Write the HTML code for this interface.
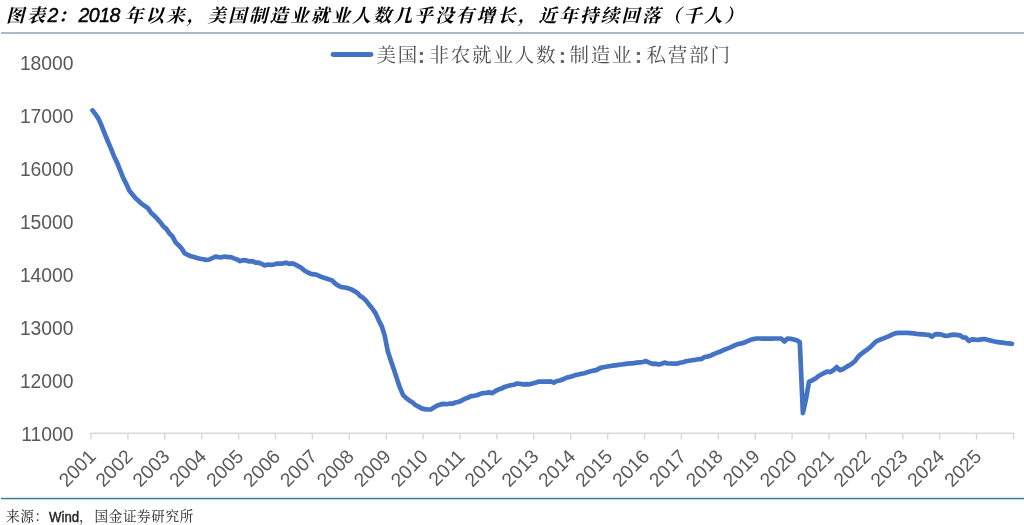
<!DOCTYPE html>
<html lang="zh"><head><meta charset="utf-8"><title>chart</title>
<style>
html,body{margin:0;padding:0;background:#fff;}
body{width:1024px;height:525px;position:relative;overflow:hidden;font-family:"Liberation Sans","Noto Sans CJK SC",sans-serif;}
.title{position:absolute;left:6px;top:0px;height:30px;line-height:30px;font-family:"Liberation Sans","Noto Serif CJK SC",serif;font-weight:bold;font-style:italic;font-size:18.4px;letter-spacing:2.3px;color:#000;white-space:nowrap}
.title .n{font-size:19.5px;letter-spacing:-0.5px;font-weight:normal;-webkit-text-stroke:0.45px #000}
.rule1{position:absolute;left:1px;top:32px;width:1023px;height:2px;background:#aeb8c7}
.rule2{position:absolute;left:1px;top:496px;width:1023px;height:5px;background:linear-gradient(#eefbfe 0 1px,#d5f0f6 1px 2px,#4d6c77 2px 3px,#c3e1e9 3px 4px,#f2fcfe 4px 5px)}
.src{position:absolute;left:6px;top:508.3px;height:18px;line-height:18px;font-family:"Liberation Sans","Noto Serif CJK SC",serif;font-size:13.6px;letter-spacing:0.6px;color:#222;white-space:nowrap}
.src span{position:absolute;top:0}
.src .w{font-family:"Liberation Sans",sans-serif;font-size:15px;letter-spacing:0;display:inline-block;transform:scaleX(0.88);transform-origin:0 50%;-webkit-text-stroke:0.4px #222;top:-0.5px}
svg{position:absolute;left:0;top:0}
.ax text{font-family:"Liberation Sans",sans-serif;font-size:19.3px;fill:#595959}
.lg{font-family:"Liberation Sans","Noto Serif CJK SC",serif;font-size:19.5px;fill:#505050;letter-spacing:1.8px}
.lg .c{font-family:"Liberation Sans",sans-serif;font-weight:bold;font-size:22px;letter-spacing:0;fill:#666}
</style></head><body>
<div class="title">图表<span class="n">2</span>：<span class="n">2018 </span>年以来，美国制造业就业人数几乎没有增长，近年持续回落（千人）</div>
<div class="rule1"></div>
<svg width="1024" height="525" viewBox="0 0 1024 525">
<g stroke="#d9d9d9" stroke-width="1.5" fill="none"><line x1="90.3" y1="433.2" x2="1014.3" y2="433.2"/><line x1="91.0" y1="433" x2="91.0" y2="439.5"/><line x1="127.9" y1="433" x2="127.9" y2="439.5"/><line x1="164.8" y1="433" x2="164.8" y2="439.5"/><line x1="201.7" y1="433" x2="201.7" y2="439.5"/><line x1="238.6" y1="433" x2="238.6" y2="439.5"/><line x1="275.5" y1="433" x2="275.5" y2="439.5"/><line x1="312.4" y1="433" x2="312.4" y2="439.5"/><line x1="349.3" y1="433" x2="349.3" y2="439.5"/><line x1="386.2" y1="433" x2="386.2" y2="439.5"/><line x1="423.1" y1="433" x2="423.1" y2="439.5"/><line x1="460.0" y1="433" x2="460.0" y2="439.5"/><line x1="496.9" y1="433" x2="496.9" y2="439.5"/><line x1="533.8" y1="433" x2="533.8" y2="439.5"/><line x1="570.7" y1="433" x2="570.7" y2="439.5"/><line x1="607.6" y1="433" x2="607.6" y2="439.5"/><line x1="644.5" y1="433" x2="644.5" y2="439.5"/><line x1="681.4" y1="433" x2="681.4" y2="439.5"/><line x1="718.3" y1="433" x2="718.3" y2="439.5"/><line x1="755.2" y1="433" x2="755.2" y2="439.5"/><line x1="792.1" y1="433" x2="792.1" y2="439.5"/><line x1="829.0" y1="433" x2="829.0" y2="439.5"/><line x1="865.9" y1="433" x2="865.9" y2="439.5"/><line x1="902.8" y1="433" x2="902.8" y2="439.5"/><line x1="939.7" y1="433" x2="939.7" y2="439.5"/><line x1="976.6" y1="433" x2="976.6" y2="439.5"/><line x1="1013.5" y1="433" x2="1013.5" y2="439.5"/></g>
<g class="ax">
<text x="73.5" y="69.9" text-anchor="end">18000</text>
<text x="73.5" y="122.9" text-anchor="end">17000</text>
<text x="73.5" y="175.8" text-anchor="end">16000</text>
<text x="73.5" y="228.7" text-anchor="end">15000</text>
<text x="73.5" y="281.7" text-anchor="end">14000</text>
<text x="73.5" y="334.6" text-anchor="end">13000</text>
<text x="73.5" y="387.6" text-anchor="end">12000</text>
<text x="73.5" y="440.5" text-anchor="end">11000</text>
<text transform="translate(97.0,457.7) rotate(-45)" text-anchor="end">2001</text>
<text transform="translate(133.8,457.7) rotate(-45)" text-anchor="end">2002</text>
<text transform="translate(170.8,457.7) rotate(-45)" text-anchor="end">2003</text>
<text transform="translate(207.6,457.7) rotate(-45)" text-anchor="end">2004</text>
<text transform="translate(244.6,457.7) rotate(-45)" text-anchor="end">2005</text>
<text transform="translate(281.4,457.7) rotate(-45)" text-anchor="end">2006</text>
<text transform="translate(318.3,457.7) rotate(-45)" text-anchor="end">2007</text>
<text transform="translate(355.2,457.7) rotate(-45)" text-anchor="end">2008</text>
<text transform="translate(392.1,457.7) rotate(-45)" text-anchor="end">2009</text>
<text transform="translate(429.0,457.7) rotate(-45)" text-anchor="end">2010</text>
<text transform="translate(465.9,457.7) rotate(-45)" text-anchor="end">2011</text>
<text transform="translate(502.9,457.7) rotate(-45)" text-anchor="end">2012</text>
<text transform="translate(539.8,457.7) rotate(-45)" text-anchor="end">2013</text>
<text transform="translate(576.7,457.7) rotate(-45)" text-anchor="end">2014</text>
<text transform="translate(613.6,457.7) rotate(-45)" text-anchor="end">2015</text>
<text transform="translate(650.5,457.7) rotate(-45)" text-anchor="end">2016</text>
<text transform="translate(687.4,457.7) rotate(-45)" text-anchor="end">2017</text>
<text transform="translate(724.2,457.7) rotate(-45)" text-anchor="end">2018</text>
<text transform="translate(761.1,457.7) rotate(-45)" text-anchor="end">2019</text>
<text transform="translate(798.1,457.7) rotate(-45)" text-anchor="end">2020</text>
<text transform="translate(835.0,457.7) rotate(-45)" text-anchor="end">2021</text>
<text transform="translate(871.9,457.7) rotate(-45)" text-anchor="end">2022</text>
<text transform="translate(908.8,457.7) rotate(-45)" text-anchor="end">2023</text>
<text transform="translate(945.6,457.7) rotate(-45)" text-anchor="end">2024</text>
<text transform="translate(982.5,457.7) rotate(-45)" text-anchor="end">2025</text>
</g>
<path d="M92.5 110.4 L95.6 114.4 L98.7 119.1 L101.8 126.3 L104.8 133.8 L107.9 141.5 L111.0 148.6 L114.1 156.5 L117.1 162.6 L120.2 170.3 L123.3 178.1 L126.4 184.1 L129.4 190.7 L132.5 194.5 L135.6 198.3 L138.7 201.0 L141.7 203.9 L144.8 206.0 L147.9 208.2 L151.0 212.7 L154.0 215.4 L157.1 218.6 L160.2 222.2 L163.3 226.4 L166.3 228.8 L169.4 233.3 L172.5 236.5 L175.6 242.4 L178.6 245.2 L181.7 248.6 L184.8 253.4 L187.9 254.8 L190.9 256.3 L194.0 257.0 L197.1 258.0 L200.2 258.8 L203.2 259.3 L206.3 259.9 L209.4 259.5 L212.5 258.0 L215.5 256.6 L218.6 257.1 L221.7 257.3 L224.8 256.5 L227.8 257.2 L230.9 257.1 L234.0 258.4 L237.1 259.5 L240.1 261.1 L243.2 260.2 L246.3 260.4 L249.4 261.4 L252.4 261.2 L255.5 262.7 L258.6 262.7 L261.7 263.9 L264.7 265.4 L267.8 264.5 L270.9 264.8 L274.0 264.5 L277.0 263.6 L280.1 263.6 L283.2 263.4 L286.3 262.7 L289.3 263.9 L292.4 263.4 L295.5 264.7 L298.6 266.3 L301.6 268.1 L304.7 270.7 L307.8 272.5 L310.9 273.9 L313.9 274.3 L317.0 274.8 L320.1 276.3 L323.2 277.6 L326.2 278.4 L329.3 279.4 L332.4 280.6 L335.5 283.8 L338.5 285.8 L341.6 287.2 L344.7 287.5 L347.8 288.1 L350.8 289.2 L353.9 290.8 L357.0 292.7 L360.1 295.9 L363.1 297.8 L366.2 300.9 L369.3 304.9 L372.4 308.7 L375.4 313.1 L378.5 319.8 L381.6 325.8 L384.7 335.6 L387.7 350.9 L390.8 360.4 L393.9 369.5 L397.0 379.0 L400.0 387.9 L403.1 395.1 L406.2 398.1 L409.3 400.4 L412.3 402.2 L415.4 405.0 L418.5 406.6 L421.6 408.4 L424.6 409.1 L427.7 409.5 L430.8 409.5 L433.9 407.6 L436.9 405.7 L440.0 404.6 L443.1 403.8 L446.2 404.2 L449.2 403.7 L452.3 403.7 L455.4 402.5 L458.5 402.0 L461.5 400.6 L464.6 398.9 L467.7 397.8 L470.8 396.2 L473.8 395.8 L476.9 395.2 L480.0 394.0 L483.1 393.1 L486.1 392.9 L489.2 392.4 L492.3 393.2 L495.4 391.0 L498.4 389.6 L501.5 388.6 L504.6 386.9 L507.7 386.0 L510.7 385.3 L513.8 384.8 L516.9 383.5 L520.0 383.8 L523.0 384.4 L526.1 384.1 L529.2 384.3 L532.3 383.6 L535.3 382.7 L538.4 381.7 L541.5 381.5 L544.6 381.6 L547.6 381.6 L550.7 381.3 L553.8 382.6 L556.9 381.0 L559.9 380.5 L563.0 379.3 L566.1 377.8 L569.2 377.1 L572.2 376.2 L575.3 375.1 L578.4 374.5 L581.5 373.8 L584.5 373.2 L587.6 372.1 L590.7 371.3 L593.8 370.6 L596.8 369.9 L599.9 368.1 L603.0 367.3 L606.1 366.7 L609.1 366.2 L612.2 365.7 L615.3 365.3 L618.4 364.9 L621.4 364.5 L624.5 364.1 L627.6 363.7 L630.7 363.4 L633.7 363.1 L636.8 362.7 L639.9 362.3 L643.0 362.0 L646.0 361.1 L649.1 362.6 L652.2 363.8 L655.3 363.6 L658.3 364.5 L661.4 363.9 L664.5 362.6 L667.6 363.5 L670.6 363.5 L673.7 363.7 L676.8 363.7 L679.9 362.7 L682.9 362.2 L686.0 361.3 L689.1 360.7 L692.2 360.2 L695.2 359.8 L698.3 359.2 L701.4 359.1 L704.5 357.0 L707.5 356.6 L710.6 355.7 L713.7 354.2 L716.8 352.9 L719.8 351.8 L722.9 350.3 L726.0 349.1 L729.1 347.9 L732.1 346.6 L735.2 345.1 L738.3 344.0 L741.4 343.4 L744.4 342.5 L747.5 341.1 L750.6 339.8 L753.7 339.0 L756.7 338.5 L759.8 338.5 L762.9 338.6 L766.0 338.7 L769.0 338.7 L772.1 338.6 L775.2 338.5 L778.3 338.5 L781.3 338.6 L784.4 341.5 L787.5 338.5 L790.6 338.8 L793.6 339.5 L796.7 340.2 L799.8 342.3 L802.9 413.1 L805.9 399.6 L809.0 381.9 L812.1 380.3 L815.2 378.7 L818.2 376.2 L821.3 374.5 L824.4 372.9 L827.5 371.5 L830.5 372.2 L833.6 370.0 L836.7 367.1 L839.8 370.2 L842.8 369.2 L845.9 367.2 L849.0 365.4 L852.1 363.5 L855.1 361.0 L858.2 356.7 L861.3 353.8 L864.4 351.5 L867.4 349.6 L870.5 346.9 L873.6 343.8 L876.7 341.1 L879.7 339.8 L882.8 338.6 L885.9 337.4 L889.0 336.1 L892.0 334.6 L895.1 333.3 L898.2 332.9 L901.3 332.8 L904.3 332.8 L907.4 332.8 L910.5 333.1 L913.6 333.4 L916.6 333.9 L919.7 334.1 L922.8 334.4 L925.9 334.7 L928.9 334.9 L932.0 336.7 L935.1 334.4 L938.2 334.1 L941.2 334.5 L944.3 335.6 L947.4 336.0 L950.5 335.1 L953.5 334.7 L956.6 334.9 L959.7 335.3 L962.8 337.3 L965.8 337.6 L968.9 341.0 L972.0 339.3 L975.1 339.7 L978.1 339.8 L981.2 339.4 L984.3 339.0 L987.4 339.7 L990.4 340.5 L993.5 341.3 L996.6 341.9 L999.7 342.3 L1002.7 342.7 L1005.8 343.1 L1008.9 343.4 L1012.0 343.8" fill="none" stroke="#4472c4" stroke-width="4.7" stroke-linejoin="round" stroke-linecap="round"/>
<line x1="333" y1="54.5" x2="371" y2="54.5" stroke="#4472c4" stroke-width="4.8" stroke-linecap="round"/>
<text class="lg" y="61.5"><tspan x="376.5">美国</tspan><tspan class="c" x="417.8" y="62.5">:</tspan><tspan x="429.5" y="61.5">非农就业人数</tspan><tspan class="c" x="558.8" y="62.5">:</tspan><tspan x="569.5" y="61.5">制造业</tspan><tspan class="c" x="634.8" y="62.5">:</tspan><tspan x="646.5" y="61.5">私营部门</tspan></text>
</svg>
<div class="rule2"></div>
<div class="src"><span style="left:0">来源：</span><span class="w" style="left:42.5px">Wind</span><span style="left:73px">，</span><span style="left:88.5px">国金证券研究所</span></div>
</body></html>
